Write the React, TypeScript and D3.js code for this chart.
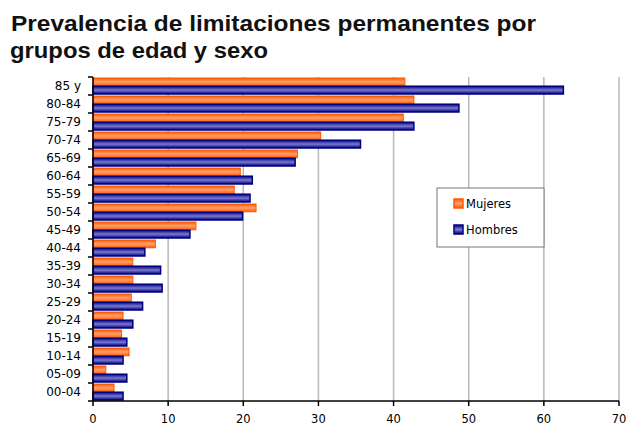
import React, { useEffect, useRef } from "react";
import * as d3 from "d3";

// age groups, top to bottom
const ageGroups = ["85 y", "80-84", "75-79", "70-74", "65-69", "60-64", "55-59", "50-54", "45-49", "40-44", "35-39", "30-34", "25-29", "20-24", "15-19", "10-14", "05-09", "00-04"];
const mujeres = [41.5, 42.7, 41.3, 30.3, 27.2, 19.6, 18.8, 21.7, 13.7, 8.3, 5.3, 5.3, 5.1, 4.0, 3.8, 4.8, 1.7, 2.8];
const hombres = [62.6, 48.7, 42.7, 35.6, 26.9, 21.2, 20.9, 19.9, 12.9, 6.9, 9.0, 9.2, 6.6, 5.3, 4.5, 4.0, 4.5, 4.0];
const seriesNames = ["Mujeres", "Hombres"];
const xTicks = [0, 10, 20, 30, 40, 50, 60, 70];

export default function App() {
  const ref = useRef<SVGSVGElement>(null);

  useEffect(() => {
    const svg = d3.select(ref.current);
    svg.selectAll("*").remove();

    const left = 93, right = 619, top = 77, bottom = 401;
    const font = "'DejaVu Sans', Verdana, sans-serif";
    const titleFont = "'Liberation Sans', Arial, sans-serif";

    // gradients for the shaded bars
    const defs = svg.append("defs");
    const grad = (id: string, edge: string, mid: string) => {
      const g = defs.append("linearGradient").attr("id", id).attr("x1", 0).attr("y1", 0).attr("x2", 0).attr("y2", 1);
      g.append("stop").attr("offset", "0%").attr("stop-color", edge);
      g.append("stop").attr("offset", "50%").attr("stop-color", mid);
      g.append("stop").attr("offset", "100%").attr("stop-color", edge);
    };
    grad("gM", "#ff5a00", "#ffa070");
    grad("gH", "#000080", "#7a7ad0");

    // title
    svg.append("text").attr("x", 11).attr("y", 31)
      .attr("textLength", 525).attr("lengthAdjust", "spacingAndGlyphs")
      .style("font-family", titleFont).style("font-weight", "bold").style("font-size", "22px").style("fill", "#111")
      .text("Prevalencia de limitaciones permanentes por");
    svg.append("text").attr("x", 10).attr("y", 58)
      .attr("textLength", 258).attr("lengthAdjust", "spacingAndGlyphs")
      .style("font-family", titleFont).style("font-weight", "bold").style("font-size", "22px").style("fill", "#111")
      .text("grupos de edad y sexo");

    const x = d3.scaleLinear().domain([0, 70]).range([left, right]);
    const y = d3.scaleBand().domain(ageGroups).range([top, bottom]);
    const inner = d3.scaleBand().domain(seriesNames).range([1, y.bandwidth() - 1]).paddingInner(0.05);

    // grid lines
    svg.append("g").selectAll("line").data(xTicks.slice(1)).join("line")
      .attr("x1", (d) => x(d)).attr("x2", (d) => x(d))
      .attr("y1", top).attr("y2", bottom)
      .style("stroke", "#b8b8b8").style("stroke-width", 1.5);

    // bars
    const rows = ageGroups.map((a, i) => ({ a, m: mujeres[i], h: hombres[i] }));
    const g = svg.append("g");
    g.selectAll(".barM").data(rows).join("rect").attr("class", "barM")
      .attr("x", left).attr("y", (d) => y(d.a)! + inner("Mujeres")!)
      .attr("width", (d) => x(d.m) - left).attr("height", inner.bandwidth())
      .style("fill", "url(#gM)").style("stroke", "#ff5a00").style("stroke-width", 1);
    g.selectAll(".barH").data(rows).join("rect").attr("class", "barH")
      .attr("x", left).attr("y", (d) => y(d.a)! + inner("Hombres")!)
      .attr("width", (d) => x(d.h) - left).attr("height", inner.bandwidth())
      .style("fill", "url(#gH)").style("stroke", "#000080").style("stroke-width", 1.5);

    // y axis
    const yAxis = svg.append("g").attr("transform", `translate(${left},0)`);
    yAxis.append("line").attr("x1", 0).attr("x2", 0).attr("y1", top).attr("y2", bottom).style("stroke", "#000").style("stroke-width", 1.5);
    yAxis.selectAll(".tk").data(d3.range(ageGroups.length + 1)).join("line").attr("class", "tk")
      .attr("x1", -5).attr("x2", 0)
      .attr("y1", (i) => top + i * y.step()).attr("y2", (i) => top + i * y.step())
      .style("stroke", "#000").style("stroke-width", 1.5);
    yAxis.selectAll("text").data(ageGroups).join("text")
      .attr("x", -12).attr("y", (d) => y(d)! + y.bandwidth() / 2 + 4)
      .style("text-anchor", "end").style("font-family", font).style("font-size", "12px").style("fill", "#000")
      .text((d) => d);

    // x axis
    const xAxis = svg.append("g").attr("transform", `translate(0,${bottom})`);
    xAxis.append("line").attr("x1", left).attr("x2", right).style("stroke", "#000").style("stroke-width", 1.5);
    xAxis.selectAll(".tk").data(xTicks).join("line").attr("class", "tk")
      .attr("x1", (d) => x(d)).attr("x2", (d) => x(d)).attr("y1", 0).attr("y2", 5)
      .style("stroke", "#000").style("stroke-width", 1.5);
    xAxis.selectAll("text").data(xTicks).join("text")
      .attr("x", (d) => x(d)).attr("y", 22)
      .style("text-anchor", "middle").style("font-family", font).style("font-size", "11.5px").style("fill", "#000")
      .text((d) => d);

    // legend
    const lg = svg.append("g").attr("transform", "translate(437,188)");
    lg.append("rect").attr("width", 107).attr("height", 59).style("fill", "#fff").style("stroke", "#777").style("stroke-width", 1);
    const colors = ["url(#gM)", "url(#gH)"];
    const strokes = ["#ff5a00", "#000080"];
    seriesNames.forEach((s, i) => {
      lg.append("rect").attr("x", 17).attr("y", 11 + i * 26).attr("width", 9).attr("height", 9)
        .style("fill", colors[i]).style("stroke", strokes[i]).style("stroke-width", 1.5);
      lg.append("text").attr("x", 29).attr("y", 20 + i * 26)
        .style("font-family", font).style("font-size", "11.5px").style("fill", "#000").text(s);
    });
  }, []);

  return <svg ref={ref} width={626} height={427} style={{ position: "absolute", left: 0, top: 0, background: "#fff" }} />;
}
